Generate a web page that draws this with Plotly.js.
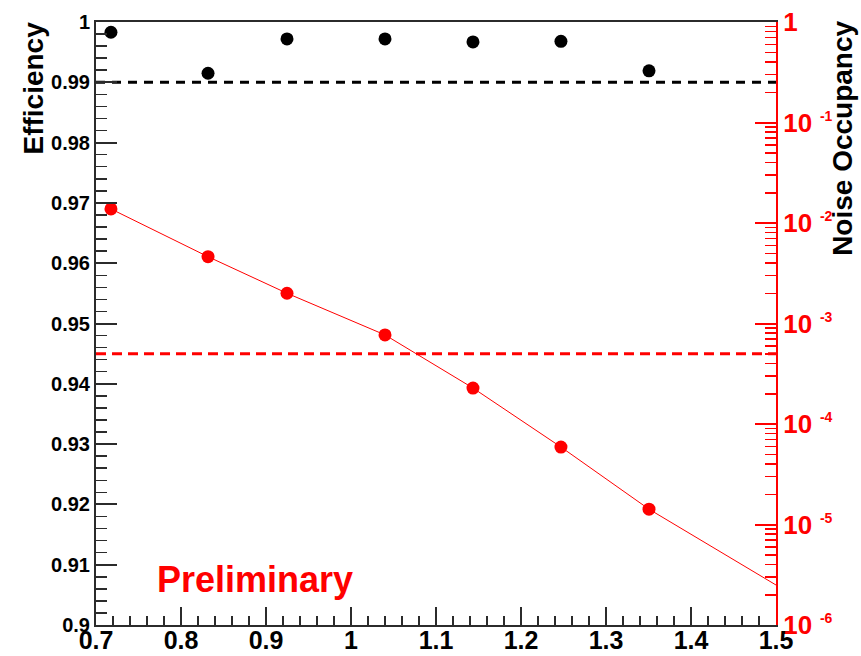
<!DOCTYPE html>
<html>
<head>
<meta charset="utf-8">
<script src="https://cdn.plot.ly/plotly-3.0.1.min.js"></script>
<style>html,body{margin:0;padding:0;background:#fff;}#chart{width:861px;height:656px;}</style>
</head>
<body>
<div id="chart"></div>
<script>
// ---- data ----
const thresholds = [0.7176, 0.8318, 0.9247, 1.0400, 1.1435, 1.2470, 1.3506];
const efficiency = [0.9983, 0.9915, 0.9972, 0.9972, 0.9967, 0.9968, 0.9919];
const noiseOccupancy = [1.38e-2, 4.62e-3, 2.0e-3, 7.7e-4, 2.28e-4, 5.9e-5, 1.42e-5];
const noiseCurveX = [0.7176, 0.8318, 0.9247, 1.0400, 1.1435, 1.2470, 1.3506, 1.5];
const noiseCurveY = [1.38e-2, 4.62e-3, 2.0e-3, 7.7e-4, 2.28e-4, 5.9e-5, 1.42e-5, 2.5e-6];
const effRefX = [0.7, 1.5];
const effRefY = [0.99, 0.99];
const noiseRefX = [0.7, 1.5];
const noiseRefY = [5e-4, 5e-4];
const xTickVals = [0.7, 0.8, 0.9, 1.0, 1.1, 1.2, 1.3, 1.4, 1.5];
const xTickText = ["0.7", "0.8", "0.9", "1", "1.1", "1.2", "1.3", "1.4", "1.5"];
const yTickVals = [0.9, 0.91, 0.92, 0.93, 0.94, 0.95, 0.96, 0.97, 0.98, 0.99, 1.0];
const yTickText = ["0.9", "0.91", "0.92", "0.93", "0.94", "0.95", "0.96", "0.97", "0.98", "0.99", "1"];
const y2TickVals = [1e-6, 1e-5, 1e-4, 1e-3, 1e-2, 1e-1, 1];
const y2Exponents = ["-6", "-5", "-4", "-3", "-2", "-1", ""];

const y2TickText = y2Exponents.map(e => e === "" ? "1" :
  "10<sup><span style='font-size:14px'>&nbsp;&nbsp;" + e + "</span></sup>");

const FONT = "Liberation Sans, Arial, sans-serif";
const RED = "#ff0000";
const AXC = "#2b2b2b";

const traces = [
  { x: effRefX, y: effRefY, type: "scatter", mode: "lines", xaxis: "x", yaxis: "y",
    line: { color: "#000", width: 3, dash: "9px,7px" }, hoverinfo: "skip" },
  { x: noiseRefX, y: noiseRefY, type: "scatter", mode: "lines", xaxis: "x", yaxis: "y2",
    line: { color: RED, width: 3, dash: "10px,6px" }, hoverinfo: "skip" },
  { x: noiseCurveX, y: noiseCurveY, type: "scatter", mode: "lines", xaxis: "x", yaxis: "y2",
    line: { color: RED, width: 1 }, hoverinfo: "skip" },
  { x: thresholds, y: noiseOccupancy, type: "scatter", mode: "markers", xaxis: "x", yaxis: "y2",
    marker: { color: RED, size: 13, symbol: "circle" } },
  { x: thresholds, y: efficiency, type: "scatter", mode: "markers", xaxis: "x", yaxis: "y",
    marker: { color: "#000", size: 13, symbol: "circle" } }
];

const layout = {
  width: 861, height: 656,
  margin: { l: 96, r: 85, t: 22, b: 31, pad: 0 },
  paper_bgcolor: "#fff", plot_bgcolor: "#fff",
  showlegend: false,
  font: { family: FONT, color: "#000" },
  xaxis: {
    range: [0.7, 1.5], tickmode: "array", tickvals: xTickVals, ticktext: xTickText,
    ticks: "inside", ticklen: 18, tickwidth: 2, tickcolor: AXC,
    showline: true, linecolor: AXC, linewidth: 2, mirror: true,
    showgrid: false, zeroline: false, ticklabelstandoff: -8,
    tickfont: { family: FONT, size: 25, weight: "bold", color: "#000" },
    minor: { dtick: 0.02, tick0: 0.7, ticks: "inside", ticklen: 9, tickwidth: 1.5, tickcolor: AXC, showgrid: false },
    fixedrange: true
  },
  yaxis: {
    range: [0.9, 1.0], tickmode: "array", tickvals: yTickVals, ticktext: yTickText,
    ticks: "inside", ticklen: 21, tickwidth: 2, tickcolor: AXC,
    showline: true, linecolor: AXC, linewidth: 2, mirror: false,
    showgrid: false, zeroline: false,
    tickfont: { family: FONT, size: 20, weight: "bold", color: "#000" },
    minor: { dtick: 0.002, tick0: 0.9, ticks: "inside", ticklen: 11, tickwidth: 1.5, tickcolor: AXC, showgrid: false },
    fixedrange: true
  },
  yaxis2: {
    type: "log", range: [-6, 0], overlaying: "y", side: "right",
    tickmode: "array", tickvals: y2TickVals, ticktext: y2TickText,
    ticks: "inside", ticklen: 21, tickwidth: 2, tickcolor: RED,
    showline: true, linecolor: RED, linewidth: 2,
    showgrid: false, zeroline: false,
    tickfont: { family: FONT, size: 26, weight: "bold", color: RED },
    minor: { dtick: "D1", ticks: "inside", ticklen: 11, tickwidth: 1.5, tickcolor: RED, showgrid: false },
    fixedrange: true
  },
  annotations: [
    { text: "Efficiency", xref: "paper", yref: "paper", x: -0.0926, y: 1.0033,
      xanchor: "center", yanchor: "top", textangle: -90, showarrow: false,
      font: { family: FONT, size: 28, weight: "bold", color: "#000" } },
    { text: "Noise Occupancy", xref: "paper", yref: "paper", x: 1.0985, y: 1.006,
      xanchor: "center", yanchor: "top", textangle: -90, showarrow: false,
      font: { family: FONT, size: 28, weight: "bold", color: "#000" } },
    { text: "Preliminary", xref: "paper", yref: "paper", x: 0.2338, y: 0.075,
      xanchor: "center", yanchor: "middle", showarrow: false,
      font: { family: FONT, size: 36, weight: "bold", color: RED } }
  ]
};

Plotly.newPlot("chart", traces, layout, { displayModeBar: false, staticPlot: true });
</script>
</body>
</html>
